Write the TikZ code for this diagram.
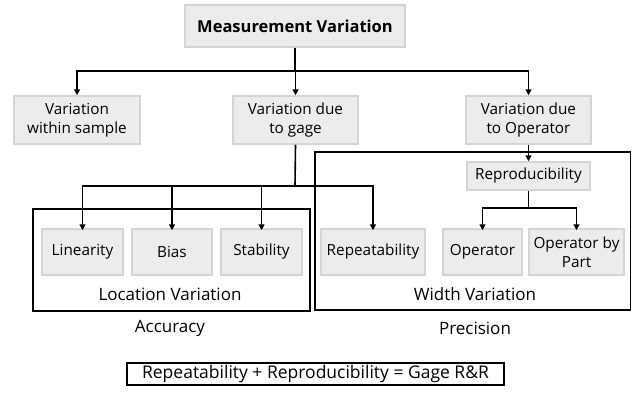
\documentclass[tikz,border=0pt]{standalone}
\usepackage{fontspec}
\setmainfont{Open Sans}
\usetikzlibrary{arrows.meta,positioning}
\definecolor{mvfill}{RGB}{236,236,236}
\definecolor{mvline}{RGB}{212,212,212}

\begin{document}
\begin{tikzpicture}[x=1pt,y=-1pt,every node/.style={font=\fontsize{15.3}{19}\selectfont},
      box/.style={draw=mvline,line width=1.5pt,fill=mvfill,align=center,inner sep=1pt},
      frame/.style={draw,line width=1.5pt},
      lbl/.style={font=\fontsize{17}{20}\selectfont},
      arr/.style={line width=1.6pt,-{Triangle[length=6pt,width=6pt]}},
      link/.style={line width=1.6pt}]
    \useasboundingbox (0,0) rectangle (632,394);
    % Frames
    \draw[frame] (33,209) rectangle (310,311);
    \draw[frame] (315,152) rectangle (630.5,310);
    % Top
    \node[box,minimum width=220pt,minimum height=42pt,font=\fontsize{16.5}{19}\selectfont\bfseries] (mv) at (295,26) {Measurement Variation};
    % Second level
    \node[box,minimum width=126pt,minimum height=48pt] (vws) at (77,120)    {Variation\\within sample};
    \node[box,minimum width=125pt,minimum height=48pt] (vdg) at (295.5,120) {Variation due\\to gage};
    \node[box,minimum width=125pt,minimum height=48pt] (vdo) at (528.5,120) {Variation due\\to Operator};
    % Location variation
    \node[box,minimum width=81pt,minimum height=46pt] (lin)  at (82.5,252)  {Linearity};
    \node[box,minimum width=80pt,minimum height=46pt] (bias) at (172,252)   {Bias};
    \node[box,minimum width=81pt,minimum height=46pt] (stab) at (261.5,252) {Stability};
    % Width variation
    \node[box,minimum width=104pt,minimum height=46pt] (rep)  at (373,252)   {Repeatability};
    \node[box,minimum width=123pt,minimum height=28pt] (repro) at (528.5,176) {Reproducibility};
    \node[box,minimum width=79pt,minimum height=46pt] (op)   at (482.5,252) {Operator};
    \node[box,minimum width=95pt,minimum height=46pt] (opp)  at (576.5,252) {Operator by\\Part};
    % Labels
    \node[lbl] (locv) at (170,294) {Location Variation};
    \node[lbl] (widv) at (475,294) {Width Variation};
    \node[lbl] (acc)  at (170,328) {Accuracy};
    \node[lbl] (prec) at (475,328) {Precision};
    \node[frame,lbl,font=\fontsize{17.5}{20}\selectfont,minimum width=377pt,minimum height=22pt,inner sep=0pt] (grr) at (315.5,374) {Repeatability + Reproducibility = Gage R\&R};
    % Junctions
    \coordinate (j1) at (295,71);
    \coordinate (j2) at (295,186);
    \coordinate (j3) at (528.5,208);
    % Connectors
    \draw[link] (mv.south) -- (j1);
    \foreach \n in {vws,vdg,vdo}{\draw[arr] (j1) -| (\n.north);}
    \draw[link] (vdg.south) -- (j2);
    \foreach \n in {lin,bias,stab,rep}{\draw[arr] (j2) -| ([yshift=-2pt]\n.north);}
    \draw[arr] (vdo.south) -- (repro.north);
    \draw[link] (repro.south) -- (j3);
    \foreach \n in {op,opp}{\draw[arr] (j3) -| ([yshift=-2pt]\n.north);}
  \end{tikzpicture}
\end{document}
